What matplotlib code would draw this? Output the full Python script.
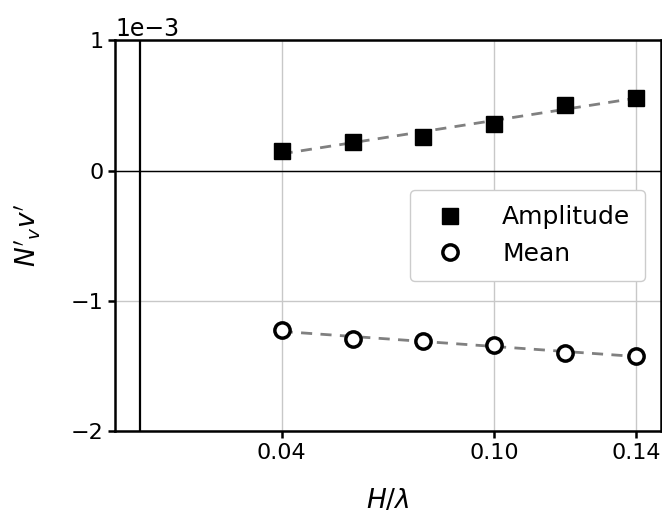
import numpy as np
import matplotlib
matplotlib.use("Agg")
import matplotlib.pyplot as plt

# wave steepness H/lambda
steepness = [0.04, 0.06, 0.08, 0.10, 0.12, 0.14]
# N'_v v' values (x 1e-3)
amplitude = [0.15, 0.22, 0.26, 0.36, 0.50, 0.56]
mean = [-1.22, -1.295, -1.31, -1.34, -1.40, -1.42]
xticks = [0.04, 0.10, 0.14]
yticks = [-2, -1, 0, 1]

x = np.array(steepness)
amp = np.array(amplitude) * 1e-3
mn = np.array(mean) * 1e-3

plt.rcParams['font.family'] = 'DejaVu Sans'
plt.rcParams['font.size'] = 16

fig = plt.figure(figsize=(6.62, 5.22), dpi=100)
ax = fig.add_axes([0.174, 0.174, 0.824, 0.749])

ax.grid(True, color='#c8c8c8', lw=1)
ax.set_axisbelow(True)
ax.axhline(0, color='black', lw=1, zorder=1)
ax.axvline(0, color='black', lw=1.6, zorder=1)

# linear fits
for y in (amp, mn):
    p = np.polyfit(x, y, 1)
    ax.plot(x, np.polyval(p, x), '--', color='gray', lw=2, dashes=(4, 3), zorder=2)

ax.plot(x, amp, 's', color='black', ms=12, label='Amplitude', zorder=3)
ax.plot(x, mn, 'o', mfc='white', mec='black', mew=2.5, ms=11, label='Mean', zorder=3)

ax.set_xlim(-0.007, 0.147)
ax.set_ylim(-2e-3, 1e-3)
ax.set_xticks(xticks)
ax.set_xticklabels(['%.2f' % t for t in xticks])
ax.set_yticks(np.array(yticks) * 1e-3)
ax.ticklabel_format(style='sci', axis='y', scilimits=(0, 0))
off = ax.yaxis.get_offset_text()
off.set_fontsize(17)
off.set_y(1.035)

for s in ax.spines.values():
    s.set_linewidth(1.8)
ax.tick_params(width=1.8, length=5)

ax.set_xlabel(r'$H/\lambda$', fontsize=19, labelpad=18)
ax.set_ylabel(r"$N'_{v}v'$", fontsize=19, labelpad=20)

ax.legend(loc='upper right', bbox_to_anchor=(0.972, 0.616), borderaxespad=0,
          handletextpad=1.1, fancybox=True, framealpha=1, edgecolor='#cccccc',
          borderpad=0.6, labelspacing=0.5, fontsize=18)

fig.savefig('out.png', dpi=100)
